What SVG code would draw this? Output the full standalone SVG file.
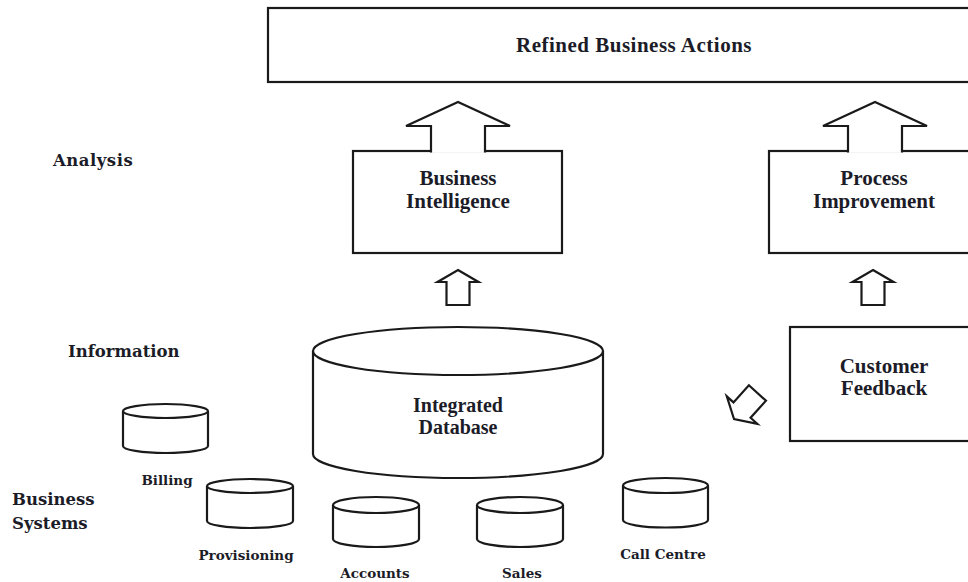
<svg xmlns="http://www.w3.org/2000/svg" width="968" height="582" viewBox="0 0 968 582">
  <defs>
    <style>
      .box { fill: #ffffff; stroke: #1a1a1a; stroke-width: 2.2; }
      .blk { fill: #ffffff; stroke: #1a1a1a; stroke-width: 2.2; stroke-linejoin: miter; }
      .cyl { fill: #ffffff; stroke: #1a1a1a; stroke-width: 2.2; }
      .t { font-family: "Liberation Serif", "Times New Roman", serif; font-weight: bold; font-size: 21px; fill: #1c1c28; text-anchor: middle; }
      .lvl { font-family: "DejaVu Serif", "Liberation Serif", serif; font-weight: bold; font-size: 16.5px; fill: #1c1c28; }
      .db { font-family: "DejaVu Serif", "Liberation Serif", serif; font-weight: bold; font-size: 13.5px; fill: #1c1c28; text-anchor: middle; }
    </style>
    <!-- small hollow block arrow, tip at origin, pointing up -->
    <path id="smallArrow" d="M0,0 L20.5,12 L11.5,12 L11.5,35 L-11.5,35 L-11.5,12 L-20.5,12 Z"/>
  </defs>

  <rect width="968" height="582" fill="#ffffff"/>

  <!-- level labels -->
  <g id="levels">
    <text class="lvl" x="53" y="166" style="letter-spacing:0.5px">Analysis</text>
    <text class="lvl" x="68" y="357">Information</text>
    <text class="lvl" x="12" y="505">Business</text>
    <text class="lvl" x="12" y="529">Systems</text>
  </g>

  <g id="refined-actions">
    <rect class="box" x="268" y="8" width="710" height="74"/>
    <text class="t" x="634" y="52" style="letter-spacing:0.5px">Refined Business Actions</text>
  </g>

  <g id="business-intelligence">
    <rect class="box" x="353" y="151" width="209" height="102"/>
    <text class="t" x="458" y="185">Business</text>
    <text class="t" x="458" y="208">Intelligence</text>
  </g>

  <g id="process-improvement">
    <rect class="box" x="769" y="151" width="210" height="102"/>
    <text class="t" x="874" y="185">Process</text>
    <text class="t" x="874" y="208">Improvement</text>
  </g>

  <g id="customer-feedback">
    <rect class="box" x="790" y="327" width="190" height="114"/>
    <text class="t" x="884" y="373">Customer</text>
    <text class="t" x="884" y="395">Feedback</text>
  </g>

  <g id="integrated-database">
    <path class="cyl" d="M313,351 L313,454 A145,24 0 0 0 603,454 L603,351"/>
    <ellipse class="cyl" cx="458" cy="351" rx="145" ry="24"/>
    <text class="t" x="458" y="412" style="font-size:20px">Integrated</text>
    <text class="t" x="458" y="434" style="font-size:20px">Database</text>
  </g>

  <g id="billing">
    <path class="cyl" d="M123,411 L123,446 A42.5,7 0 0 0 208,446 L208,411"/>
    <ellipse class="cyl" cx="165.5" cy="411" rx="42.5" ry="7"/>
    <text class="db" x="167" y="485">Billing</text>
  </g>

  <g id="provisioning">
    <path class="cyl" d="M207,486 L207,521 A43,7 0 0 0 293,521 L293,486"/>
    <ellipse class="cyl" cx="250" cy="486" rx="43" ry="7"/>
    <text class="db" x="246" y="560">Provisioning</text>
  </g>

  <g id="accounts">
    <path class="cyl" d="M333,505 L333,539 A43,8 0 0 0 419,539 L419,505"/>
    <ellipse class="cyl" cx="376" cy="505" rx="43" ry="8"/>
    <text class="db" x="375" y="578">Accounts</text>
  </g>

  <g id="sales">
    <path class="cyl" d="M477,505 L477,539 A43,8 0 0 0 563,539 L563,505"/>
    <ellipse class="cyl" cx="520" cy="505" rx="43" ry="8"/>
    <text class="db" x="522" y="578">Sales</text>
  </g>

  <g id="call-centre">
    <path class="cyl" d="M623,485.5 L623,520 A42.5,7.5 0 0 0 708,520 L708,485.5"/>
    <ellipse class="cyl" cx="665.5" cy="485.5" rx="42.5" ry="7.5"/>
    <text class="db" x="663" y="559">Call Centre</text>
  </g>

  <!-- block-arrow connectors -->
  <g id="connectors">
    <!-- large arrows rising out of the analysis boxes; fill hides the box edge under the shaft -->
    <path class="blk" d="M431,152.5 L431,126 L406,126 L458,102 L510,126 L485,126 L485,152.5"/>
    <path class="blk" d="M848,152.5 L848,126 L823,126 L875,102 L927,126 L902,126 L902,152.5"/>
    <!-- small arrows feeding the analysis boxes -->
    <use href="#smallArrow" class="blk" transform="translate(458,270)"/>
    <use href="#smallArrow" class="blk" transform="translate(873,270)"/>
    <!-- feedback arrow pointing toward the database -->
    <use href="#smallArrow" class="blk" transform="translate(734,419) rotate(222)"/>
  </g>
</svg>
